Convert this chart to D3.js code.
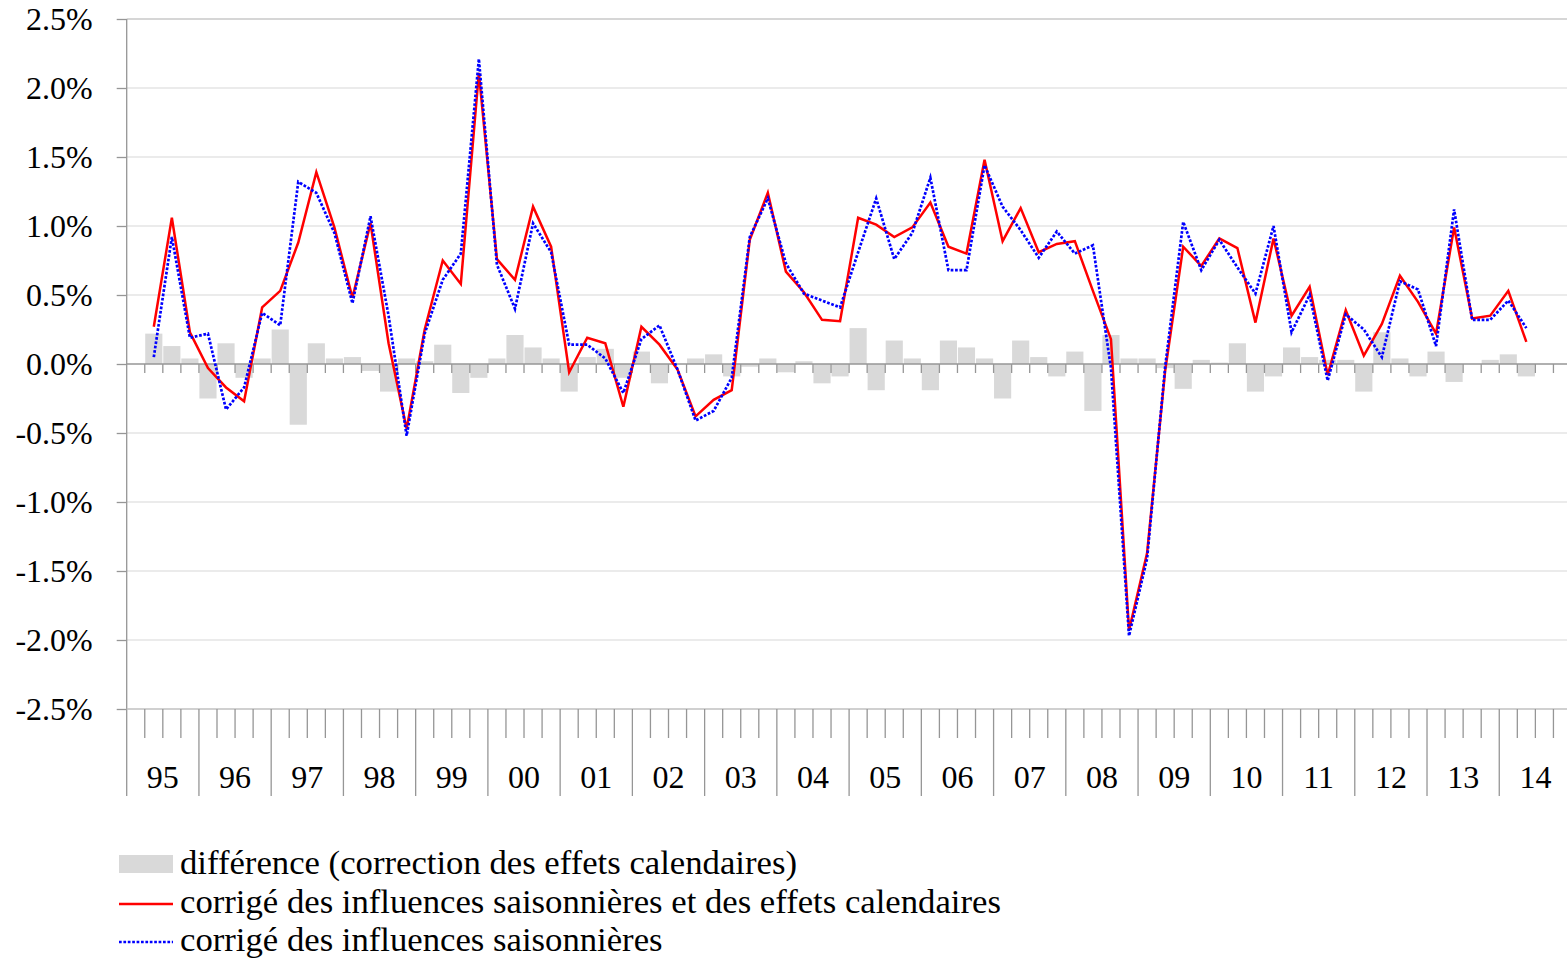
<!DOCTYPE html>
<html>
<head>
<meta charset="utf-8">
<script src="https://cdn.jsdelivr.net/npm/d3@7"></script>
<style>
  body { margin: 0; background: #fff; }
  svg { display: block; }
  text { font-family: "Liberation Serif", "Times New Roman", serif; fill: #000; }
</style>
</head>
<body>
<svg id="chart" width="1567" height="959"></svg>
<script>
// Year labels on the category axis (two-digit years, one band of four quarters each)
const years = ["95","96","97","98","99","00","01","02","03","04",
               "05","06","07","08","09","10","11","12","13","14"];
// Quarterly categories, 95Q1 … 14Q4
const quarters = years.flatMap(y => ["Q1","Q2","Q3","Q4"].map(q => y + q));

// Quarter-on-quarter growth in %, starting at 95Q1 (no rate for the first quarter)
// Adjusted for seasonal influences and calendar effects
const adjSeasonCalendar = [null,
   0.27, 1.06, 0.23,
  -0.03,-0.17,-0.27, 0.41,
   0.53, 0.88, 1.39, 0.99,
   0.48, 1.02, 0.15,-0.47,
   0.25, 0.75, 0.58, 2.11,
   0.76, 0.61, 1.14, 0.85,
  -0.06, 0.19, 0.15,-0.31,
   0.27, 0.14,-0.04,-0.38,
  -0.26,-0.19, 0.90, 1.24,
   0.67, 0.52, 0.32, 0.31,
   1.06, 1.01, 0.92, 0.99,
   1.17, 0.85, 0.80, 1.48,
   0.89, 1.13, 0.81, 0.87,
   0.89, 0.53, 0.18,-1.93,
  -1.37,-0.05, 0.85, 0.71,
   0.91, 0.84, 0.30, 0.91,
   0.35, 0.56,-0.08, 0.39,
   0.06, 0.29, 0.64, 0.45,
   0.22, 0.99, 0.33, 0.35,
   0.53, 0.16];

// Adjusted for seasonal influences only
const adjSeason = [null,
   0.05, 0.92, 0.19,
   0.22,-0.33,-0.17, 0.37,
   0.28, 1.32, 1.24, 0.95,
   0.44, 1.07, 0.35,-0.52,
   0.22, 0.61, 0.80, 2.21,
   0.72, 0.40, 1.02, 0.81,
   0.14, 0.14, 0.04,-0.21,
   0.18, 0.28,-0.04,-0.41,
  -0.34,-0.10, 0.92, 1.20,
   0.73, 0.51, 0.46, 0.41,
   0.81, 1.20, 0.76, 0.95,
   1.35, 0.68, 0.68, 1.44,
   1.14, 0.97, 0.77, 0.96,
   0.80, 0.86,-0.03,-1.97,
  -1.41,-0.02, 1.03, 0.68,
   0.90, 0.70, 0.51, 1.00,
   0.23, 0.50,-0.12, 0.36,
   0.25, 0.05, 0.60, 0.54,
   0.13, 1.12, 0.32, 0.32,
   0.46, 0.26];

// Difference between the two (calendar-effect correction)
const calendarDiff = [null,
   0.22, 0.13, 0.04,
  -0.25, 0.15,-0.10, 0.04,
   0.25,-0.44, 0.15, 0.04,
   0.05,-0.05,-0.20, 0.04,
   0.02, 0.14,-0.21,-0.10,
   0.04, 0.21, 0.12, 0.04,
  -0.20, 0.05, 0.11,-0.10,
   0.09,-0.14, 0.00, 0.04,
   0.07,-0.09,-0.02, 0.04,
  -0.06, 0.02,-0.14,-0.09,
   0.26,-0.19, 0.17, 0.04,
  -0.19, 0.17, 0.12, 0.04,
  -0.25, 0.17, 0.05,-0.09,
   0.09,-0.34, 0.21, 0.04,
   0.04,-0.03,-0.18, 0.03,
   0.01, 0.15,-0.20,-0.09,
   0.12, 0.05, 0.03, 0.03,
  -0.20, 0.23, 0.04,-0.09,
   0.09,-0.13, 0.00, 0.03,
   0.07,-0.09];

const yTicks = [-2.5,-2.0,-1.5,-1.0,-0.5,0,0.5,1.0,1.5,2.0,2.5];

const legendLabels = [
  "différence (correction des effets calendaires)",
  "corrigé des influences saisonnières et des effets calendaires",
  "corrigé des influences saisonnières"
];

// ---- layout ----
const svg = d3.select("#chart");
const plotLeft = 126.7, plotRight = 1571.5, plotTop = 19, plotBottom = 709;
const axisColor = "#969696", gridColor = "#e4e4e4";

const x = d3.scaleBand().domain(quarters).range([plotLeft, plotRight])
  .paddingInner(0.05).paddingOuter(0.025);
const xb = d3.scaleLinear().domain([0, quarters.length]).range([plotLeft, plotRight]); // quarter boundaries
const y = d3.scaleLinear().domain([-2.5, 2.5]).range([plotBottom, plotTop]);
const xc = q => x(q) + x.bandwidth() / 2;

// horizontal gridlines
svg.append("g").selectAll("line").data(yTicks.filter(d => d !== 0 && d !== -2.5)).join("line")
  .attr("x1", plotLeft).attr("x2", 1567)
  .attr("y1", d => y(d)).attr("y2", d => y(d))
  .attr("stroke", d => d === 2.5 ? "#c8c8c8" : gridColor)
  .attr("stroke-width", 1.4);

// bars: calendar-effect difference
const barData = quarters.map((q, i) => ({ q, v: calendarDiff[i] })).filter(d => d.v != null);
svg.append("g").selectAll("rect").data(barData).join("rect")
  .attr("x", d => x(d.q))
  .attr("width", x.bandwidth())
  .attr("y", d => y(Math.max(0, d.v)))
  .attr("height", d => Math.abs(y(d.v) - y(0)))
  .attr("fill", "#d9d9d9");

// y axis with labels
const yAxis = d3.axisLeft(y).tickValues(yTicks).tickSize(10).tickPadding(24)
  .tickFormat(d => d.toFixed(1) + "%");
const gy = svg.append("g").attr("transform", `translate(${plotLeft},0)`).call(yAxis);
gy.select(".domain").remove();
gy.selectAll(".tick line").attr("stroke", axisColor).attr("stroke-width", 1.3);
gy.selectAll(".tick text").attr("font-size", 32)
  .attr("font-family", "Liberation Serif, Times New Roman, serif").attr("fill", "#000");
svg.append("line").attr("x1", plotLeft).attr("x2", plotLeft).attr("y1", plotTop).attr("y2", 796)
  .attr("stroke", axisColor).attr("stroke-width", 1.3);

// zero line with quarter ticks
svg.append("line").attr("x1", plotLeft).attr("x2", 1567).attr("y1", y(0)).attr("y2", y(0))
  .attr("stroke", axisColor).attr("stroke-width", 1.6);
svg.append("g").selectAll("line").data(d3.range(1, quarters.length + 1)).join("line")
  .attr("x1", d => xb(d)).attr("x2", d => xb(d))
  .attr("y1", y(0)).attr("y2", y(0) + 9)
  .attr("stroke", axisColor).attr("stroke-width", 1.3);

// bottom category axis: quarter ticks, year separators, year labels
svg.append("line").attr("x1", plotLeft).attr("x2", 1567).attr("y1", plotBottom).attr("y2", plotBottom)
  .attr("stroke", "#c0c0c0").attr("stroke-width", 1.4);
svg.append("g").selectAll("line").data(d3.range(1, quarters.length + 1)).join("line")
  .attr("x1", d => xb(d)).attr("x2", d => xb(d))
  .attr("y1", plotBottom).attr("y2", d => d % 4 === 0 ? 796 : 738)
  .attr("stroke", axisColor).attr("stroke-width", 1.3);
svg.append("g").selectAll("text").data(years).join("text")
  .attr("x", (d, i) => xb(i * 4 + 2)).attr("y", 788)
  .attr("text-anchor", "middle").attr("font-size", 32).text(d => d);

// lines
const line = arr => d3.line()
  .defined((d, i) => arr[i] != null)
  .x((d, i) => xc(quarters[i]))
  .y((d, i) => y(arr[i]))(arr);

svg.append("path").attr("d", line(adjSeasonCalendar))
  .attr("fill", "none").attr("stroke", "#ff0000").attr("stroke-width", 2.5)
  .attr("stroke-linejoin", "miter");
svg.append("path").attr("d", line(adjSeason))
  .attr("fill", "none").attr("stroke", "#0000ff").attr("stroke-width", 2.7)
  .attr("stroke-dasharray", "2.7 1.7");

// legend
const lg = svg.append("g");
const rows = [874, 913, 951];
lg.append("rect").attr("x", 119).attr("y", 855).attr("width", 54).attr("height", 18).attr("fill", "#d9d9d9");
lg.append("line").attr("x1", 119).attr("x2", 173).attr("y1", 904).attr("y2", 904)
  .attr("stroke", "#ff0000").attr("stroke-width", 2.5);
lg.append("line").attr("x1", 119).attr("x2", 173).attr("y1", 942).attr("y2", 942)
  .attr("stroke", "#0000ff").attr("stroke-width", 2.7).attr("stroke-dasharray", "2.7 1.7");
lg.selectAll("text").data(legendLabels).join("text")
  .attr("x", 180).attr("y", (d, i) => rows[i]).attr("font-size", 34.7).text(d => d);
</script>
</body>
</html>
